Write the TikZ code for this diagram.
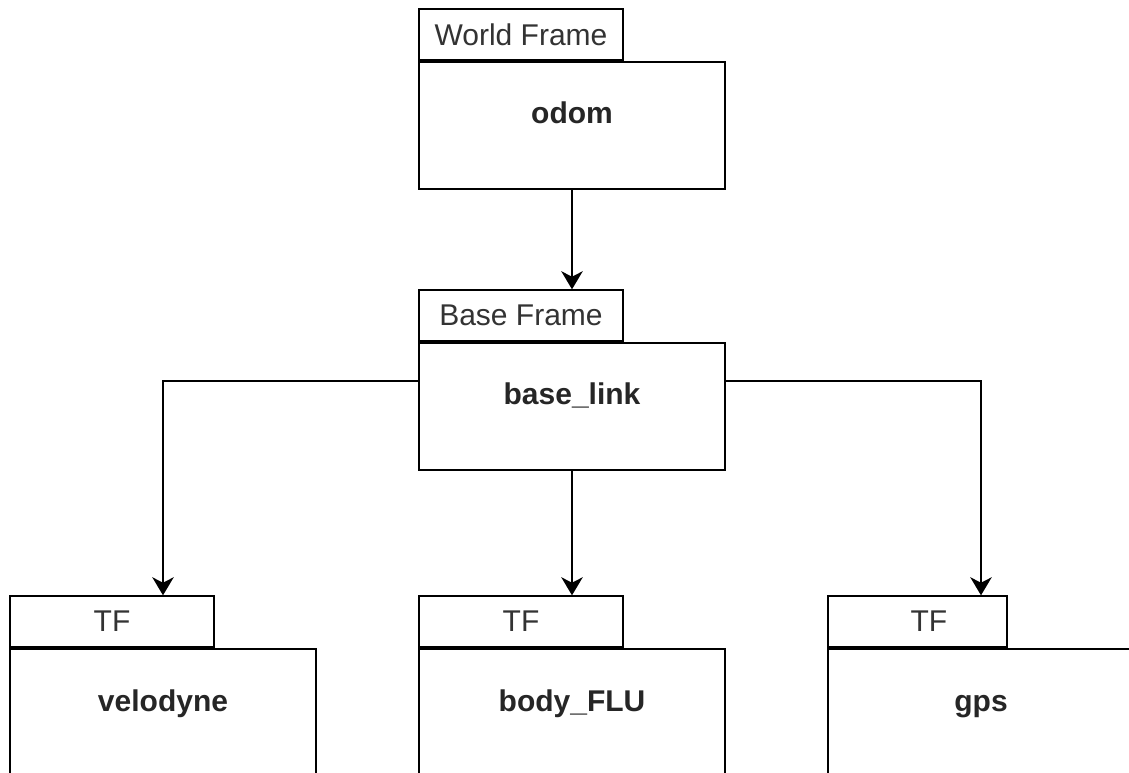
\documentclass[tikz,border=0pt]{standalone}
\usepackage{fontspec}
\setmainfont{Liberation Sans}
\usetikzlibrary{arrows.meta}

\tikzset{
  frame/.style={draw, line width=1.5pt, anchor=north west, inner sep=0pt,
    minimum width=229.5pt, minimum height=95.25pt},
  tabtext/.style={text=black!80, font=\fontsize{22.5}{27}\selectfont},
  tab/.style={tabtext, draw, line width=1.5pt, anchor=south west, inner sep=0pt,
    minimum width=153pt, minimum height=38pt},
  framename/.style={anchor=base, text=black!85,
    font=\bfseries\fontsize{22.5}{27}\selectfont},
  link/.style={line width=1.5pt, -{Stealth[length=13.5pt,width=16pt,inset=4pt]}}
}

\begin{document}
\begin{tikzpicture}[x=0.75pt,y=-0.75pt]
    \clip (0,0) rectangle (1129,773);
    \fill[white] (0,0) rectangle (1129,773);

    %World frame
    \node[frame] (odom) at (418,61) {};
    \node[tab] (odomtab) at (odom.north west) {World Frame};
    \node[framename] (odomname) at ([yshift=-47pt]odom.north) {odom};

    %Base frame
    \node[frame] (base) at (418,342) {};
    \node[tab] (basetab) at (base.north west) {Base Frame};
    \node[framename] (basename) at ([yshift=-47pt]base.north) {base\_link};

    %Sensor frames
    \node[frame] (velodyne) at (9,648) {};
    \node[tab] (velotab) at (velodyne.north west) {TF};
    \node[framename] (veloname) at ([yshift=-47.5pt]velodyne.north) {velodyne};

    \node[frame] (body) at (418,648) {};
    \node[tab] (bodytab) at (body.north west) {TF};
    \node[framename] (bodyname) at ([yshift=-47.5pt]body.north) {body\_FLU};

    \node[frame] (gps) at (827,648) {};
    \node[tab, minimum width=134.25pt] (gpstab) at (gps.north west) {};
    \node[tabtext] (gpstf) at ([xshift=8.6pt]gpstab.center) {TF};
    \node[framename] (gpsname) at ([yshift=-47.5pt]gps.north) {gps};

    %Links
    \draw[link] (odom.south) -- (odom.south |- basetab.north);
    \draw[link] ([yshift=19pt]base.west) -| (velodyne.north |- velotab.north);
    \draw[link] (base.south) -- (base.south |- bodytab.north);
    \draw[link] ([yshift=19pt]base.east) -| (gps.north |- gpstab.north);

\end{tikzpicture}
\end{document}
